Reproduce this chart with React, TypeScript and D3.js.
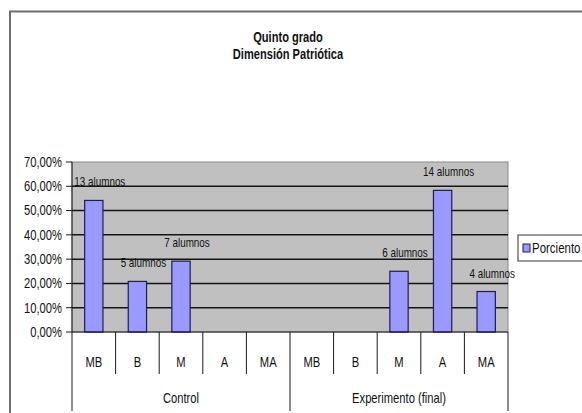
import React from "react";
import * as d3 from "d3";

const groups = ["Control", "Experimento (final)"];
const levels = ["MB", "B", "M", "A", "MA"];
const values = [
  [54.17, 20.83, 29.17, 0, 0],
  [0, 0, 25.0, 58.33, 16.67],
];
const labels = [
  ["13 alumnos", "5 alumnos", "7 alumnos", "", ""],
  ["", "", "6 alumnos", "14 alumnos", "4 alumnos"],
];
const yTicks = [0, 10, 20, 30, 40, 50, 60, 70];
const seriesName = "Porciento";
const titleLines = ["Quinto grado", "Dimensión Patriótica"];

const W = 582, H = 413;
const plot = { left: 72, right: 508, top: 162, bottom: 332 };
const font = "'Liberation Sans', Arial, sans-serif";

function T(props: { x: number; y: number; s?: number; size: number; anchor?: string; weight?: string; dy?: string; children: React.ReactNode }) {
  const { x, y, s = 0.85, size, anchor = "start", weight = "normal", dy = "0", children } = props;
  return (
    <text transform={`translate(${x},${y}) scale(${s},1)`} dy={dy} textAnchor={anchor} fontFamily={font} fontSize={size} fontWeight={weight} fill="#111">
      {children}
    </text>
  );
}

export default function App() {
  const cats = groups.flatMap((g, gi) => levels.map((l, li) => ({ key: `${gi}-${li}`, g, gi, l, li, v: values[gi][li], lab: labels[gi][li] })));
  const x = d3.scaleBand().domain(cats.map((c) => c.key)).range([plot.left, plot.right]).paddingInner(0).paddingOuter(0);
  const y = d3.scaleLinear().domain([0, 70]).range([plot.bottom, plot.top]);
  const bw = x.bandwidth() * 0.42;
  const fmt = (v: number) => d3.format(".2f")(v).replace(".", ",") + "%";
  const groupW = x.bandwidth() * levels.length;

  return (
    <div style={{ position: "absolute", left: 0, top: 0, width: W, height: H, background: "#fff" }}>
      <svg width={W} height={H} style={{ display: "block" }}>
        <rect x={0} y={0} width={W} height={H} fill="#fff" />
        <path d={`M10,${H} L10,11.5 L${W},11.5`} fill="none" stroke="#6e6e6e" strokeWidth={2} />
        {titleLines.map((t, i) => (
          <T key={t} x={288} y={42 + i * 16.5} s={0.74} size={15} anchor="middle" weight="bold">{t}</T>
        ))}
        <rect x={plot.left} y={plot.top} width={plot.right - plot.left} height={plot.bottom - plot.top} fill="#c0c0c0" stroke="#8a8a8a" strokeWidth={1} />
        {yTicks.map((t) => (
          <g key={t}>
            {t > 0 && t < 70 && <line x1={plot.left} x2={plot.right} y1={y(t)} y2={y(t)} stroke="#141414" strokeWidth={1.5} />}
            <line x1={plot.left - 6} x2={plot.left} y1={y(t)} y2={y(t)} stroke="#1a1a1a" strokeWidth={1} />
            <T x={62} y={y(t)} dy="0.35em" s={0.8} size={14} anchor="end">{fmt(t)}</T>
          </g>
        ))}
        {cats.map((c) => {
          const cx = (x(c.key) as number) + x.bandwidth() / 2;
          return (
            <g key={c.key}>
              {c.v > 0 && (
                <rect x={cx - bw / 2} y={y(c.v)} width={bw} height={y(0) - y(c.v)} fill="#9999ff" stroke="#1c1c5a" strokeWidth={1.2} />
              )}
              {c.lab && (
                <T x={cx + 6} y={y(c.v) - 14} s={0.76} size={13} anchor="middle">{c.lab}</T>
              )}
              <T x={cx} y={362} dy="0.35em" s={0.8} size={14} anchor="middle">{c.l}</T>
            </g>
          );
        })}
        <line x1={plot.left} x2={plot.right} y1={plot.bottom} y2={plot.bottom} stroke="#1a1a1a" strokeWidth={1.2} />
        <line x1={plot.left} x2={plot.left} y1={plot.top} y2={plot.bottom} stroke="#1a1a1a" strokeWidth={1} />
        {cats.map((c, i) => {
          const xx = x(c.key) as number;
          if (i === 0 || c.li === 0) return null;
          return <line key={"s" + c.key} x1={xx} x2={xx} y1={plot.bottom} y2={374} stroke="#1a1a1a" strokeWidth={1} />;
        })}
        {[0, 1, 2].map((i) => (
          <line key={"g" + i} x1={plot.left + i * groupW} x2={plot.left + i * groupW} y1={plot.bottom} y2={411} stroke="#1a1a1a" strokeWidth={1} />
        ))}
        {groups.map((g, i) => (
          <T key={g} x={plot.left + groupW * (i + 0.5)} y={398} dy="0.35em" s={0.8} size={14} anchor="middle">{g}</T>
        ))}
        <rect x={518} y={235} width={70} height={26} fill="#fff" stroke="#333" strokeWidth={1} />
        <rect x={523} y={244} width={7} height={8} fill="#9999ff" stroke="#1c1c5a" strokeWidth={1} />
        <T x={532} y={248} dy="0.35em" s={0.82} size={14}>{seriesName}</T>
      </svg>
    </div>
  );
}
